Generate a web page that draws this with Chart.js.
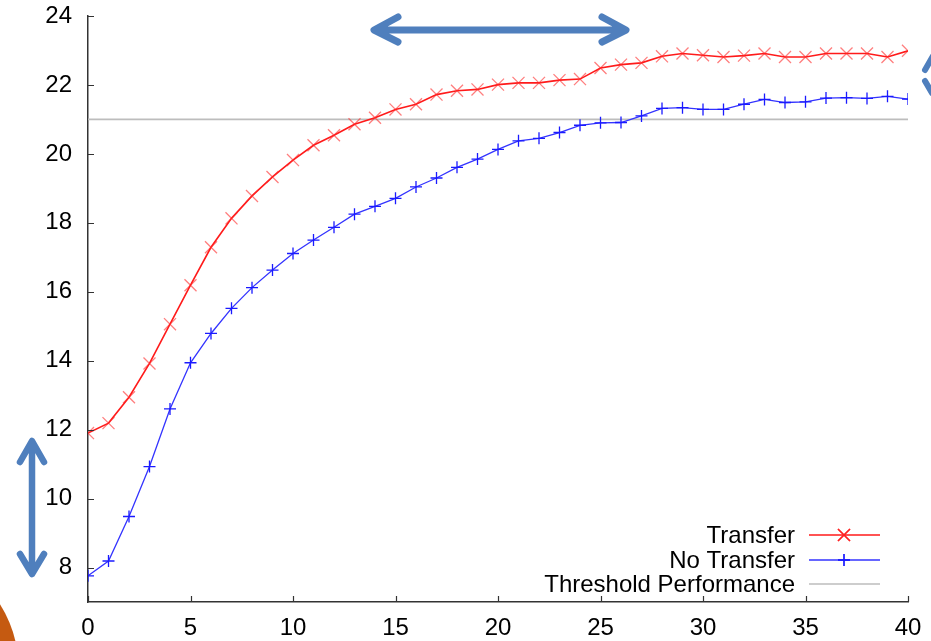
<!DOCTYPE html>
<html>
<head>
<meta charset="utf-8">
<script src="https://cdn.jsdelivr.net/npm/chart.js@4.4.1/dist/chart.umd.min.js"></script>
<style>
  html, body { margin: 0; padding: 0; background: #ffffff; }
  #wrap { width: 931px; height: 641px; position: relative; }
</style>
</head>
<body>
<div id="wrap"><canvas id="c" width="931" height="641"></canvas></div>
<script>
// ---- data ----
const episodes = [0,1,2,3,4,5,6,7,8,9,10,11,12,13,14,15,16,17,18,19,20,21,22,23,24,25,26,27,28,29,30,31,32,33,34,35,36,37,38,39,40];
const transfer = [11.90,12.19,12.94,13.92,15.06,16.19,17.29,18.13,18.78,19.33,19.82,20.25,20.54,20.86,21.05,21.29,21.44,21.72,21.83,21.87,22.01,22.06,22.06,22.14,22.17,22.49,22.59,22.64,22.83,22.91,22.86,22.81,22.85,22.91,22.81,22.81,22.91,22.91,22.91,22.81,22.99];
const noTransfer = [7.76,8.19,9.48,10.93,12.60,13.94,14.79,15.52,16.12,16.63,17.11,17.50,17.87,18.25,18.48,18.71,19.04,19.30,19.61,19.85,20.13,20.38,20.45,20.62,20.83,20.90,20.91,21.10,21.32,21.34,21.29,21.29,21.44,21.58,21.49,21.51,21.62,21.63,21.61,21.67,21.59];
const thresholdValue = 21;
const thresholdRange = [0, 40];
const xTicks = [0,5,10,15,20,25,30,35,40];
const yTicks = [8,10,12,14,16,18,20,22,24];
const seriesNames = ["Transfer", "No Transfer", "Threshold Performance"];

const FONT = "'Liberation Sans', Arial, Helvetica, sans-serif";

const redLine = '#ff1a1a';
const redMark = 'rgba(255,40,40,0.6)';
const blueLine = '#3333ff';
const blueMark = '#1a1aff';
const greyLine = '#bdbdbd';

const ds = [
  {
    label: seriesNames[0],
    data: episodes.map((x, i) => ({x: x, y: transfer[i]})),
    borderColor: redLine, borderWidth: 1.6,
    pointStyle: 'crossRot', pointRadius: 8.5, pointBorderWidth: 1.3,
    pointBorderColor: redMark, pointBackgroundColor: redMark,
    tension: 0, order: 1
  },
  {
    label: seriesNames[1],
    data: episodes.map((x, i) => ({x: x, y: noTransfer[i]})),
    borderColor: blueLine, borderWidth: 1.3,
    pointStyle: 'cross', pointRadius: 6, pointBorderWidth: 1.3,
    pointBorderColor: blueMark, pointBackgroundColor: blueMark,
    tension: 0, order: 2
  },
  {
    label: seriesNames[2],
    data: thresholdRange.map(x => ({x: x, y: thresholdValue})),
    borderColor: greyLine, borderWidth: 1.6,
    pointRadius: 0, tension: 0, order: 3
  }
];

// inward tick marks
const inwardTicks = {
  id: 'inwardTicks',
  afterDraw(chart) {
    const ctx = chart.ctx;
    const xs = chart.scales.x, ys = chart.scales.y;
    const a = chart.chartArea;
    ctx.save();
    ctx.strokeStyle = '#333';
    ctx.lineWidth = 1.2;
    ctx.beginPath();
    xTicks.forEach(v => {
      const px = Math.round(xs.getPixelForValue(v)) + 0.5;
      ctx.moveTo(px, a.bottom); ctx.lineTo(px, a.bottom - 6);
    });
    yTicks.forEach(v => {
      const py = Math.round(ys.getPixelForValue(v)) + 0.5;
      ctx.moveTo(a.left, py); ctx.lineTo(a.left + 6, py);
    });
    ctx.stroke();
    ctx.restore();
  }
};

// legend inside plot, bottom-right
const innerLegend = {
  id: 'innerLegend',
  afterDraw(chart) {
    const ctx = chart.ctx;
    const textRight = 795, lx0 = 809, lx1 = 880, mx = 844;
    const rows = [535, 560, 584];
    ctx.save();
    ctx.font = '24px ' + FONT;
    ctx.fillStyle = '#000';
    ctx.textAlign = 'right';
    ctx.textBaseline = 'middle';
    chart.data.datasets.forEach((d, i) => {
      const y = rows[i];
      ctx.fillText(d.label, textRight, y + 1);
      ctx.strokeStyle = d.borderColor;
      ctx.lineWidth = d.borderWidth;
      ctx.beginPath(); ctx.moveTo(lx0, y); ctx.lineTo(lx1, y); ctx.stroke();
      if (d.pointRadius > 0) {
        Chart.helpers.drawPoint(ctx, {
          pointStyle: d.pointStyle, radius: d.pointRadius, rotation: 0,
          borderWidth: d.pointBorderWidth
        }, mx, y);
        ctx.strokeStyle = d.pointBorderColor;
        ctx.lineWidth = d.pointBorderWidth;
        ctx.stroke();
      }
    });
    ctx.restore();
  }
};

// decorative overlay shapes from the slide
const decorations = {
  id: 'decorations',
  afterDraw(chart) {
    const ctx = chart.ctx;
    const blue = '#4f7fbd';
    ctx.save();
    ctx.strokeStyle = blue;
    ctx.lineCap = 'round';
    ctx.lineJoin = 'round';
    // horizontal double arrow
    ctx.lineWidth = 7;
    ctx.beginPath();
    ctx.moveTo(376, 30); ctx.lineTo(624, 30);
    ctx.moveTo(398, 17); ctx.lineTo(374, 30); ctx.lineTo(398, 42);
    ctx.moveTo(602, 17); ctx.lineTo(626, 30); ctx.lineTo(602, 42);
    ctx.stroke();
    // vertical double arrow
    ctx.lineWidth = 6.5;
    ctx.beginPath();
    ctx.moveTo(32, 442); ctx.lineTo(32, 572);
    ctx.moveTo(20, 462); ctx.lineTo(32, 441); ctx.lineTo(44, 462);
    ctx.moveTo(20, 554); ctx.lineTo(32, 574); ctx.lineTo(44, 554);
    ctx.stroke();
    // partial arrow at right edge
    ctx.lineWidth = 6;
    ctx.beginPath();
    ctx.moveTo(925, 70); ctx.lineTo(933, 56);
    ctx.moveTo(925, 81); ctx.lineTo(932, 93);
    ctx.stroke();
    // orange shape bottom-left
    ctx.fillStyle = '#c55a11';
    ctx.beginPath();
    ctx.arc(-100.5, 668, 119, 0, Math.PI * 2);
    ctx.fill();
    ctx.restore();
  }
};

new Chart(document.getElementById('c'), {
  type: 'line',
  data: { datasets: ds },
  options: {
    responsive: false,
    animation: false,
    devicePixelRatio: 1,
    layout: { padding: { top: 16, right: 23, left: 0, bottom: 0 } },
    plugins: { legend: { display: false }, tooltip: { enabled: false } },
    scales: {
      x: {
        type: 'linear', min: 0, max: 40,
        afterBuildTicks(s) { s.ticks = xTicks.map(v => ({value: v})); },
        afterFit(s) { s.height = 39; s.paddingLeft = 0; s.paddingRight = 0; },
        grid: { drawOnChartArea: false, drawTicks: false },
        border: { display: true, color: '#333', width: 1.5 },
        ticks: { color: '#000', font: { family: FONT, size: 24 }, padding: 12, maxRotation: 0 }
      },
      y: {
        type: 'linear', min: 7, max: 24,
        afterBuildTicks(s) { s.ticks = yTicks.map(v => ({value: v})); },
        afterFit(s) { s.width = 88; s.paddingTop = 0; s.paddingBottom = 0; },
        grid: { drawOnChartArea: false, drawTicks: false },
        border: { display: true, color: '#333', width: 1.5 },
        ticks: { color: '#000', font: { family: FONT, size: 24 }, padding: 16 }
      }
    }
  },
  plugins: [inwardTicks, innerLegend, decorations]
});
</script>
</body>
</html>
